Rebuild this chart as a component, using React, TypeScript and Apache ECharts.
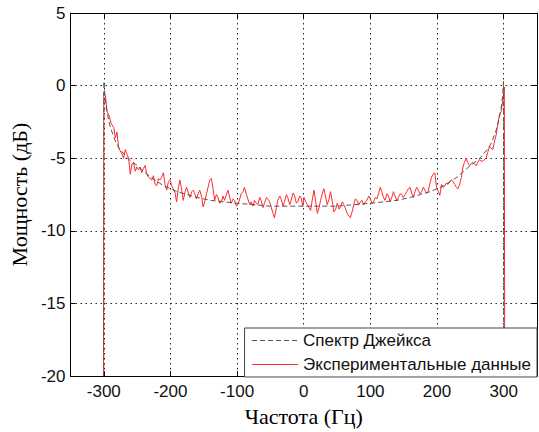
import React, { useEffect, useRef } from 'react';
import * as echarts from 'echarts';

const xTicks = [-300, -200, -100, 0, 100, 200, 300];
const yTicks = [-20, -15, -10, -5, 0, 5];

const seriesNames = ['Спектр Джейкса', 'Экспериментальные данные'];

const jakesFreq = [
  -300, -299.8, -298, -296, -293, -290, -286, -282, -277, -270, -262, -250, -240, -230, -220, -210, -200,
  -190, -175, -160, -140, -120, -100, -75, -50, -25, 0, 25, 50, 75, 100, 120, 140, 160, 175, 190, 200,
  210, 220, 230, 240, 250, 262, 270, 277, 282, 286, 290, 293, 296, 298, 299.8, 300,
];
const jakesPow = [
  -20, 0.3, -0.9, -1.6, -2.3, -2.9, -3.4, -3.9, -4.3, -4.7, -5.1, -5.5, -5.9, -6.3, -6.6, -6.9, -7.1,
  -7.3, -7.5, -7.7, -7.9, -8.0, -8.1, -8.2, -8.3, -8.3, -8.3, -8.3, -8.3, -8.2, -8.1, -8.0, -7.9, -7.7, -7.5, -7.3, -7.1,
  -6.9, -6.6, -6.3, -5.9, -5.5, -5.1, -4.7, -4.3, -3.9, -3.4, -2.9, -2.3, -1.6, -0.9, 0.3, -20,
];

const expFreq = [
  -300.5, -300, -297.6, -295, -292.5, -289, -285, -282.7, -280.2, -277.7, -275.3, -272.7, -270.2, -267.8, -265.3,
  -262.8, -260.3, -257.8, -255.3, -252.8, -250.4, -247.9, -245.5, -243, -240.5, -238, -235.5, -233, -230.5, -228,
  -225.5, -223, -220.6, -218, -215.6, -213, -210.6, -208, -205.7, -203, -200.7, -198, -195.7, -193, -190.8, -188,
  -185.8, -183, -180.8, -178, -175.9, -173, -170.9, -168, -165.9, -163, -161, -158, -156, -153, -151, -148, -146,
  -143, -141, -138.6, -136, -133.7, -131, -128.6, -126, -123.7, -121, -118.8, -116, -113.7, -111, -108.8, -106,
  -103.9, -101, -98.8, -96, -93.9, -91, -89, -86, -83.9, -81, -79, -76, -74, -71, -69, -66, -64, -61, -59, -56,
  -54, -51, -49, -46, -44, -41, -39, -36, -34, -31, -29, -26, -24, -21, -19, -16, -14, -11, -9, -6, -4, -1.5,
  0.5, 3, 5.5, 8, 10.4, 13, 15.4, 18, 20.4, 23, 25.3, 28, 30.3, 33, 35.3, 38, 40.2, 43, 45.2, 48, 50.2, 53, 55.1,
  58, 60.1, 63, 65.1, 68, 70, 72.5, 75, 77.5, 80, 82.5, 85, 87.5, 89.9, 92.5, 94.9, 97.5, 99.9, 102.5, 104.8,
  107.5, 109.8, 112.5, 114.8, 117, 119.7, 122, 124.7, 127, 129.7, 132, 134.6, 137, 139.6, 142, 144.6, 147, 149.5,
  152, 154.5, 157, 159.5, 162, 164.4, 167, 169.4, 172, 174.4, 176.9, 179.5, 181.8, 184, 186.7, 189, 191.8, 194,
  196.7, 198, 199.3, 202, 204.2, 206.7, 209, 211.6, 214, 216.5, 219, 221.6, 224, 226.5, 229, 231.4, 234, 236.5,
  238.9, 241, 243.9, 246, 248.9, 251, 253.8, 256, 258.9, 261, 263.8, 266, 268.7, 271, 273.8, 276, 278.7, 281,
  283.6, 286, 288.7, 291, 293.6, 296.1, 298.5, 301, 301.5,
];
const expPow = [
  -20, -0.5, -0.7, -1.8, -2.0, -2.6, -2.9, -3.6, -3.2, -4.3, -4.5, -4.7, -5.0, -4.4, -4.7,
  -5.0, -6.1, -5.4, -5.3, -5.9, -5.6, -5.8, -5.6, -6.0, -5.7, -5.5, -6.1, -6.3, -6.4, -6.5,
  -6.2, -6.8, -6.9, -6.4, -6.5, -6.3, -6.0, -6.8, -7.2, -6.6, -6.5, -6.9, -7.1, -7.4, -8.0, -7.0,
  -6.5, -7.2, -7.9, -7.3, -7.0, -7.4, -7.7, -7.3, -7.2, -7.5, -7.8, -7.4, -7.2, -7.7, -8.35, -7.9, -7.45,
  -6.9, -6.5, -6.4, -7.1, -7.9, -7.5, -7.7, -8.1, -8.0, -7.6, -7.9, -7.5, -7.2, -7.7, -8.1, -7.8,
  -7.9, -8.3, -8.2, -7.8, -7.45, -7.3, -7.0, -7.5, -7.8, -8.2, -8.0, -8.3, -7.9, -8.1, -8.2, -7.7, -7.9, -8.4, -8.1, -7.7,
  -7.8, -8.0, -8.35, -8.8, -9.1, -8.4, -7.9, -7.6, -7.8, -8.3, -8.0, -7.5, -7.7, -8.2, -7.9, -7.4, -7.55, -8.1, -8.0, -7.6, -7.7, -8.3,
  -7.7, -8.0, -8.2, -8.4, -8.6, -7.8, -7.2, -8.0, -8.8, -8.4, -7.9, -7.4, -7.1, -7.7, -8.2, -7.8, -7.3, -8.0, -8.7, -8.5, -8.1, -8.5, -8.35,
  -8.0, -8.2, -8.5, -8.8, -9.0, -9.1, -8.7, -8.2, -7.8, -7.9, -8.2, -8.0, -7.9, -8.2, -8.0, -7.9, -7.6, -7.8, -8.1, -8.0,
  -7.7, -7.8, -7.4, -7.0, -7.3, -7.7, -7.9, -7.45, -7.6, -8.0, -7.7, -7.3, -7.6, -7.9, -7.7, -7.45, -7.5, -7.7,
  -7.5, -7.3, -7.1, -7.0, -7.4, -7.7, -7.3, -7.0, -7.2, -7.45, -7.3, -7.0, -7.2, -7.4, -7.3, -6.8, -6.3, -6.1,
  -6.0, -6.5, -7.0, -7.3, -7.55, -6.8, -7.0, -6.9, -6.7, -6.8, -6.6, -6.5, -6.6, -6.8, -7.0, -7.1, -6.8, -6.3,
  -5.6, -5.3, -5.0, -5.3, -5.5, -5.4, -5.3, -5.4, -5.5, -5.3, -5.1, -5.2, -5.2, -5.1, -5.0, -4.6, -4.2, -4.3,
  -4.4, -3.9, -3.4, -2.7, -2.0, -1.8, -1.1, -0.1, -20,
];

const zip = (xs: number[], ys: number[]) => xs.map((x, i) => [x, ys[i]]);

const sans = 'Liberation Sans, Arial, sans-serif';
const serif = 'Liberation Serif, Times New Roman, serif';

export default function App() {
  const ref = useRef<HTMLDivElement>(null);
  useEffect(() => {
    const chart = echarts.init(ref.current!, null, { renderer: 'svg' });
    const gridLine = { show: true, lineStyle: { color: '#222', type: [1.5, 3.5], width: 1 } };
    chart.setOption({
      animation: false,
      backgroundColor: '#fff',
      grid: { left: 69, right: 2, top: 13, bottom: 49 },
      legend: {
        data: seriesNames,
        orient: 'vertical',
        right: 2,
        bottom: 55,
        backgroundColor: '#fff',
        borderColor: '#444',
        borderWidth: 1,
        borderRadius: 0,
        padding: [4, 6, 4, 7],
        itemWidth: 46,
        itemHeight: 14,
        itemGap: 7,
        itemStyle: { opacity: 0 },
        lineStyle: { width: 1 },
        textStyle: { fontFamily: sans, fontSize: 17, color: '#111', lineHeight: 17 },
      },
      xAxis: [
        {
          type: 'value',
          min: -350,
          max: 350,
          name: 'Частота (Гц)',
          nameLocation: 'middle',
          nameGap: 23,
          nameTextStyle: { fontFamily: serif, fontSize: 22, color: '#000' },
          axisLine: { show: true, onZero: false, lineStyle: { color: '#000', width: 1 } },
          axisTick: { show: true, inside: true, length: 5, customValues: xTicks, lineStyle: { color: '#000' } },
          axisLabel: { customValues: xTicks, fontFamily: sans, fontSize: 17, color: '#111', margin: 7 },
          splitLine: gridLine,
        },
        {
          type: 'value',
          position: 'top',
          min: -350,
          max: 350,
          axisLine: { show: true, onZero: false, lineStyle: { color: '#000', width: 1 } },
          axisTick: { show: true, inside: true, length: 5, customValues: xTicks, lineStyle: { color: '#000' } },
          axisLabel: { show: false },
          splitLine: { show: false },
        },
      ],
      yAxis: [
        {
          type: 'value',
          min: yTicks[0],
          max: yTicks[yTicks.length - 1],
          interval: 5,
          name: 'Мощность (дБ)',
          nameLocation: 'middle',
          nameGap: 36,
          nameTextStyle: { fontFamily: serif, fontSize: 22, color: '#000' },
          axisLine: { show: true, onZero: false, lineStyle: { color: '#000', width: 1 } },
          axisTick: { show: true, inside: true, length: 5, lineStyle: { color: '#000' } },
          axisLabel: { fontFamily: sans, fontSize: 17, color: '#111', margin: 5 },
          splitLine: gridLine,
        },
        {
          type: 'value',
          position: 'right',
          min: yTicks[0],
          max: yTicks[yTicks.length - 1],
          interval: 5,
          axisLine: { show: true, onZero: false, lineStyle: { color: '#000', width: 1 } },
          axisTick: { show: true, inside: true, length: 5, lineStyle: { color: '#000' } },
          axisLabel: { show: false },
          splitLine: { show: false },
        },
      ],
      series: [
        {
          name: seriesNames[0],
          type: 'line',
          xAxisIndex: 0,
          yAxisIndex: 0,
          data: zip(jakesFreq, jakesPow),
          symbol: 'none',
          z: 3,
          lineStyle: { color: '#555', width: 1, type: [5, 3] },
          itemStyle: { color: '#555' },
        },
        {
          name: seriesNames[1],
          type: 'line',
          xAxisIndex: 0,
          yAxisIndex: 0,
          data: zip(expFreq, expPow),
          symbol: 'none',
          z: 2,
          lineStyle: { color: '#ff2a2a', width: 1 },
          itemStyle: { color: '#ff2a2a' },
        },
      ],
    });
    return () => chart.dispose();
  }, []);
  return <div ref={ref} style={{ position: 'absolute', left: 0, top: 0, width: 539, height: 432 }} />;
}
